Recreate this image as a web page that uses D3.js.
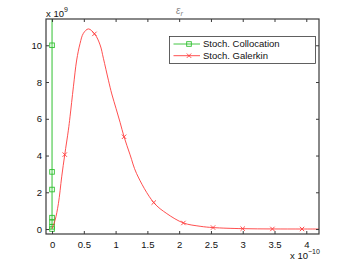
<!DOCTYPE html>
<html>
<head>
<meta charset="utf-8">
<script src="https://cdn.jsdelivr.net/npm/d3@7"></script>
<style>
body { margin: 0; background: #fff; }
svg { display: block; font-family: "Liberation Sans", Arial, sans-serif; }
.tick text { font-size: 9.5px; fill: #111; }
</style>
</head>
<body>
<svg id="chart" width="352" height="264"></svg>
<script>
// values in units of 1e-10 (x) and 1e9 (y)
var galerkinCurveX = [0.0, 0.047, 0.1, 0.152, 0.2, 0.257, 0.283, 0.336, 0.388, 0.441, 0.493, 0.572, 0.672, 0.756, 0.808, 0.887, 0.94, 1.008, 1.071, 1.133, 1.228, 1.33, 1.6, 1.806, 2.068, 2.33, 2.53, 3.0, 3.47, 3.93, 4.2];
var galerkinCurveY = [0.02, 0.47, 1.38, 2.84, 4.05, 5.38, 6.11, 7.74, 9.2, 10.1, 10.65, 10.89, 10.61, 10.02, 9.29, 8.1, 7.35, 6.55, 5.8, 5.02, 4.04, 3.02, 1.44, 0.84, 0.33, 0.15, 0.08, 0.02, 0.005, 0.002, 0.001];
var galerkinMarkX = [0.2, 0.667, 1.133, 1.6, 2.067, 2.533, 3.0, 3.467, 3.933];
var galerkinMarkY = [4.05, 10.62, 5.02, 1.44, 0.33, 0.08, 0.02, 0.005, 0.002];
var collocX = [0, 0, 0, 0, 0, 0, 0, 0];
var collocY = [0, 0.12, 0.38, 0.62, 2.15, 3.11, 10.0, 40.0];
var xTicks = [0, 0.5, 1, 1.5, 2, 2.5, 3, 3.5, 4];
var yTicks = [0, 2, 4, 6, 8, 10];
var seriesNames = ["Stoch. Collocation", "Stoch. Galerkin"];

var RED = "#ff3b3b", GREEN = "#2fc02f", AXIS = "#3a3a3a";
var box = {left: 46, top: 19, right: 319, bottom: 234};

var svg = d3.select("#chart");
var x = d3.scaleLinear().domain([-0.095, 4.2]).range([box.left, box.right]);
var y = d3.scaleLinear().domain([-0.27, 11.43]).range([box.bottom, box.top]);

svg.append("defs").append("clipPath").attr("id", "plotClip")
	.append("rect")
	.attr("x", box.left).attr("y", box.top)
	.attr("width", box.right - box.left).attr("height", box.bottom - box.top);

var plot = svg.append("g").attr("clip-path", "url(#plotClip)");

// collocation: vertical green line at x=0
var collocPts = d3.zip(collocX, collocY);
plot.append("path")
	.datum(collocPts)
	.attr("fill", "none")
	.attr("stroke", GREEN)
	.attr("stroke-width", 1)
	.attr("d", d3.line().x(function(d) { return x(d[0]); }).y(function(d) { return y(d[1]); }));

plot.selectAll("rect.colloc")
	.data(collocPts.filter(function(d) { return d[1] < 11.4; }))
	.enter().append("rect")
	.attr("class", "colloc")
	.attr("x", function(d) { return x(d[0]) - 2.3; })
	.attr("y", function(d) { return y(d[1]) - 2.3; })
	.attr("width", 4.6).attr("height", 4.6)
	.attr("fill", "none").attr("stroke", GREEN).attr("stroke-width", 0.9);

// galerkin curve
var galPts = d3.zip(galerkinCurveX, galerkinCurveY);
plot.append("path")
	.datum(galPts)
	.attr("fill", "none")
	.attr("stroke", RED)
	.attr("stroke-width", 0.9)
	.attr("d", d3.line().curve(d3.curveCatmullRom).x(function(d) { return x(d[0]); }).y(function(d) { return y(d[1]); }));

function crossPath(cx, cy, r) {
	return "M" + (cx - r) + "," + (cy - r) + "L" + (cx + r) + "," + (cy + r) +
		"M" + (cx - r) + "," + (cy + r) + "L" + (cx + r) + "," + (cy - r);
}

plot.selectAll("path.galMark")
	.data(d3.zip(galerkinMarkX, galerkinMarkY))
	.enter().append("path")
	.attr("class", "galMark")
	.attr("d", function(d) { return crossPath(x(d[0]), y(d[1]), 2.2); })
	.attr("stroke", RED).attr("stroke-width", 0.9);

// axes box with inward ticks
var tickLen = 3;
svg.append("g").attr("transform", "translate(0," + box.bottom + ")")
	.call(d3.axisBottom(x).tickValues(xTicks).tickSize(-tickLen).tickPadding(7).tickFormat(d3.format("")))
	.call(function(g) { g.select(".domain").remove(); });
svg.append("g").attr("transform", "translate(0," + box.top + ")")
	.call(d3.axisTop(x).tickValues(xTicks).tickSize(-tickLen).tickFormat(""))
	.call(function(g) { g.select(".domain").remove(); });
svg.append("g").attr("transform", "translate(" + box.left + ",0)")
	.call(d3.axisLeft(y).tickValues(yTicks).tickSize(-tickLen).tickPadding(4))
	.call(function(g) { g.select(".domain").remove(); });
svg.append("g").attr("transform", "translate(" + box.right + ",0)")
	.call(d3.axisRight(y).tickValues(yTicks).tickSize(-tickLen).tickFormat(""))
	.call(function(g) { g.select(".domain").remove(); });
svg.selectAll(".tick line").attr("stroke", AXIS);

svg.append("rect")
	.attr("x", box.left).attr("y", box.top)
	.attr("width", box.right - box.left).attr("height", box.bottom - box.top)
	.attr("fill", "none").attr("stroke", AXIS).attr("stroke-width", 1.2);

// exponent labels
var yExp = svg.append("text").attr("x", 46).attr("y", 17).attr("font-size", "9.5px").attr("fill", "#111");
yExp.append("tspan").text("x 10");
yExp.append("tspan").attr("dy", -5).attr("font-size", "7px").text("9");

var xExp = svg.append("text").attr("x", 290).attr("y", 259).attr("font-size", "9.5px").attr("fill", "#111");
xExp.append("tspan").text("x 10");
xExp.append("tspan").attr("dy", -5).attr("font-size", "7px").text("\u221210");

// title
var title = svg.append("text").attr("x", 176).attr("y", 13.5).attr("font-size", "10px").attr("fill", "#888").attr("font-style", "italic");
title.append("tspan").text("\u03b5");
title.append("tspan").attr("dy", 2.5).attr("font-size", "7.5px").text("r");

// legend
var legend = svg.append("g");
legend.append("rect")
	.attr("x", 169.5).attr("y", 36.5).attr("width", 146).attr("height", 27)
	.attr("fill", "#fff").attr("stroke", AXIS).attr("stroke-width", 0.8);
var rows = legend.selectAll("g.row").data(seriesNames).enter().append("g")
	.attr("class", "row")
	.attr("transform", function(d, i) { return "translate(0," + (44 + i * 11.7) + ")"; });
rows.append("line").attr("x1", 173.5).attr("x2", 200).attr("y1", 0).attr("y2", 0)
	.attr("stroke", function(d, i) { return i ? RED : GREEN; }).attr("stroke-width", 0.9);
rows.each(function(d, i) {
	var g = d3.select(this);
	if (i === 0) {
		g.append("rect").attr("x", 186.7).attr("y", -2.3).attr("width", 4.6).attr("height", 4.6)
			.attr("fill", "none").attr("stroke", GREEN).attr("stroke-width", 0.9);
	} else {
		g.append("path").attr("d", crossPath(189, 0, 2.2)).attr("stroke", RED).attr("stroke-width", 0.9);
	}
});
rows.append("text").attr("x", 203).attr("y", 3.4).attr("font-size", "9.5px").attr("fill", "#111")
	.text(function(d) { return d; });
</script>
</body>
</html>
